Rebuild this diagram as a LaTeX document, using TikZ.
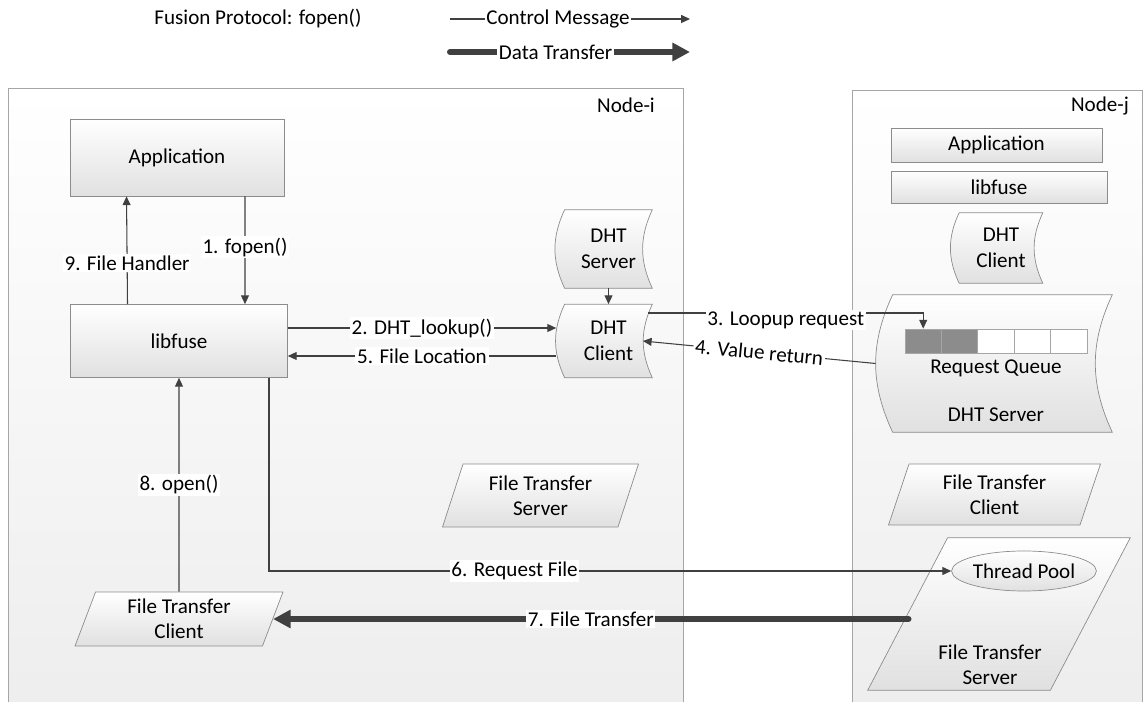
\documentclass[tikz,border=0pt]{standalone}
\usepackage{fontspec}
\setmainfont{Carlito}
\usepackage{tikz}
\usetikzlibrary{shapes, arrows.meta, positioning, calc}
\pgfdeclarelayer{bottom}
\pgfdeclarelayer{mid}
\pgfsetlayers{bottom,mid,main}
\tikzstyle{framebox} = [draw=black!35, top color=white, bottom color=black!7]
\tikzstyle{block} = [rectangle, draw=black!45, top color=white, bottom color=black!12, align=center, inner sep=0pt]
\tikzstyle{wavebox} = [rectangle, align=center, inner sep=0pt]
\tikzstyle{slantbox} = [trapezium, trapezium left angle=63, trapezium right angle=117, trapezium stretches body=true, draw=black!45, top color=white, bottom color=black!12, align=center, inner sep=0pt]
\tikzstyle{qcell} = [rectangle, draw=black!35, minimum width=0.728cm, minimum height=0.48cm, inner sep=0pt]
\tikzstyle{ctrllink} = [draw=black!75, line width=0.6pt, -{Triangle[length=5pt,width=4.5pt]}]
\tikzstyle{datalink} = [draw=black!75, line width=3.4pt, line cap=round, -{Triangle[length=10pt,width=10pt]}]
\tikzstyle{lbl} = [fill=white, inner sep=1pt]
% outline with both sides bowed to the left
\newcommand{\waveline}[2]{%
  \draw [draw=black!45, top color=white, bottom color=black!12]
    (#1.north west) -- (#1.north east) to[bend right=#2] (#1.south east)
    -- (#1.south west) to[bend left=#2] (#1.north west) -- cycle;}
% slanted outline for a large box
\newcommand{\slantline}[2]{%
  \draw [draw=black!45, top color=white, bottom color=black!12]
    ([xshift=#2]#1.north west) -- (#1.north east) -- ([xshift=-#2]#1.south east)
    -- (#1.south west) -- cycle;}

\begin{document}
\begin{tikzpicture}[x=0.02cm, y=-0.02cm, font=\fontsize{12}{14.5}\selectfont]
\useasboundingbox (0,0) rectangle (1144,702);
% the two hosts
\begin{pgfonlayer}{bottom}
\draw [framebox] (8,88) rectangle (683,720);
\draw [framebox] (852,90) rectangle (1142,720);
\end{pgfonlayer}
\node (titlei) at (626,105) {Node-i};
\node (titlej) at (1100,106) {Node-j};

% legend
\node (proto) at (258,18) {Fusion Protocol: fopen()};
\coordinate (cml) at (450,19);
\coordinate (cmr) at (690,19);
\coordinate (dtl) at (450,52);
\coordinate (dtr) at (690,52);
\draw [ctrllink] (cml) -- node[lbl, pos=0.45] {Control Message} (cmr);
\draw [datalink] (dtl) -- node[lbl, pos=0.44] {Data Transfer} (dtr);

% Node-i
\node (appi) [block, minimum width=4.28cm, minimum height=1.54cm] at (177,157.5) {Application};
\node (fusei) [block, minimum width=4.34cm, minimum height=1.46cm] at (179,341) {libfuse};
\node (dhtsi) [wavebox, minimum width=1.74cm, minimum height=1.56cm] at (608.5,249) {DHT\\Server};
\node (dhtci) [wavebox, minimum width=1.74cm, minimum height=1.46cm] at (608.5,341) {DHT\\Client};
\node (ftsi) [slantbox, minimum width=3.92cm, minimum height=1.26cm] at (540.5,495.5) {File Transfer\\Server};
\node (ftci) [slantbox, minimum width=4.16cm, minimum height=1.08cm] at (179,619) {File Transfer\\Client};

% Node-j
\node (appj) [block, minimum width=4.22cm, minimum height=0.68cm] at (996.5,145) {Application};
\node (fusej) [block, minimum width=4.32cm, minimum height=0.64cm] at (999,187) {libfuse};
\node (dhtcj) [wavebox, minimum width=1.66cm, minimum height=1.4cm] at (1001,248) {DHT\\Client};
\node (dhtsj) [wavebox, minimum width=4.38cm, minimum height=2.74cm] at (1002.5,363.5) {};
\foreach \i/\c in {0/black!45, 1/black!45, 2/white, 3/white, 4/white}
  \node (q\i) [qcell, fill=\c] at (923.2+36.4*\i,341) {};
\node (rq) at (996,368) {Request Queue};
\node (dhtslbl) at (996,415) {DHT Server};
\node (ftcj) [slantbox, minimum width=4.24cm, minimum height=1.22cm] at (994.5,494.5) {File Transfer\\Client};
\node (ftsj) [wavebox, minimum width=5.24cm, minimum height=3.04cm] at (999,614) {};
\node (tp) [ellipse, draw=black!45, top color=white, bottom color=black!12, minimum width=2.64cm, minimum height=0.8cm, inner sep=0pt] at (1024,571) {Thread Pool};
\node (ftsjlbl) [align=center] at (990,665) {File Transfer\\Server};

\begin{pgfonlayer}{mid}
\waveline{dhtsi}{25}
\waveline{dhtci}{25}
\waveline{dhtcj}{25}
\waveline{dhtsj}{25}
\slantline{ftsj}{1.6cm}
\end{pgfonlayer}

% messages
\draw [ctrllink] ([xshift=1.36cm]appi.south) -- node[lbl, pos=0.47] {1. fopen()} ([xshift=1.32cm]fusei.north);
\draw [ctrllink] (dhtsi.south) -- (dhtci.north);
\draw [ctrllink] ([yshift=0.26cm]fusei.east) -- node[lbl] {2. DHT\_lookup()} ([xshift=-0.17cm, yshift=0.26cm]dhtci.west);
\draw [ctrllink] ([xshift=-0.08cm, yshift=0.56cm]dhtci.east) -| node[lbl, pos=0.25, yshift=-0.14cm] {3. Loopup request} (q0.north);
\draw [ctrllink] ([xshift=-0.34cm]dhtsj.west) -- node[lbl, sloped] {4. Value return} ([xshift=-0.19cm]dhtci.east);
\draw [ctrllink] ([xshift=-0.17cm, yshift=-0.3cm]dhtci.west) -- node[lbl] {5. File Location} ([yshift=-0.3cm]fusei.east);
\draw [ctrllink] ([xshift=1.8cm]fusei.south) |- node[lbl, pos=0.68] {6. Request File} (tp.west);
\draw [datalink] ([xshift=-1.81cm, yshift=-0.1cm]ftsj.center) -- node[lbl] {7. File Transfer} (ftci.east);
\draw [ctrllink] (ftci.north) -- node[lbl] {8. open()} (fusei.south);
\draw [ctrllink] ([xshift=-1.03cm]fusei.north) -- node[lbl, pos=0.38] {9. File Handler} ([xshift=-1.01cm]appi.south);
\end{tikzpicture}
\end{document}
